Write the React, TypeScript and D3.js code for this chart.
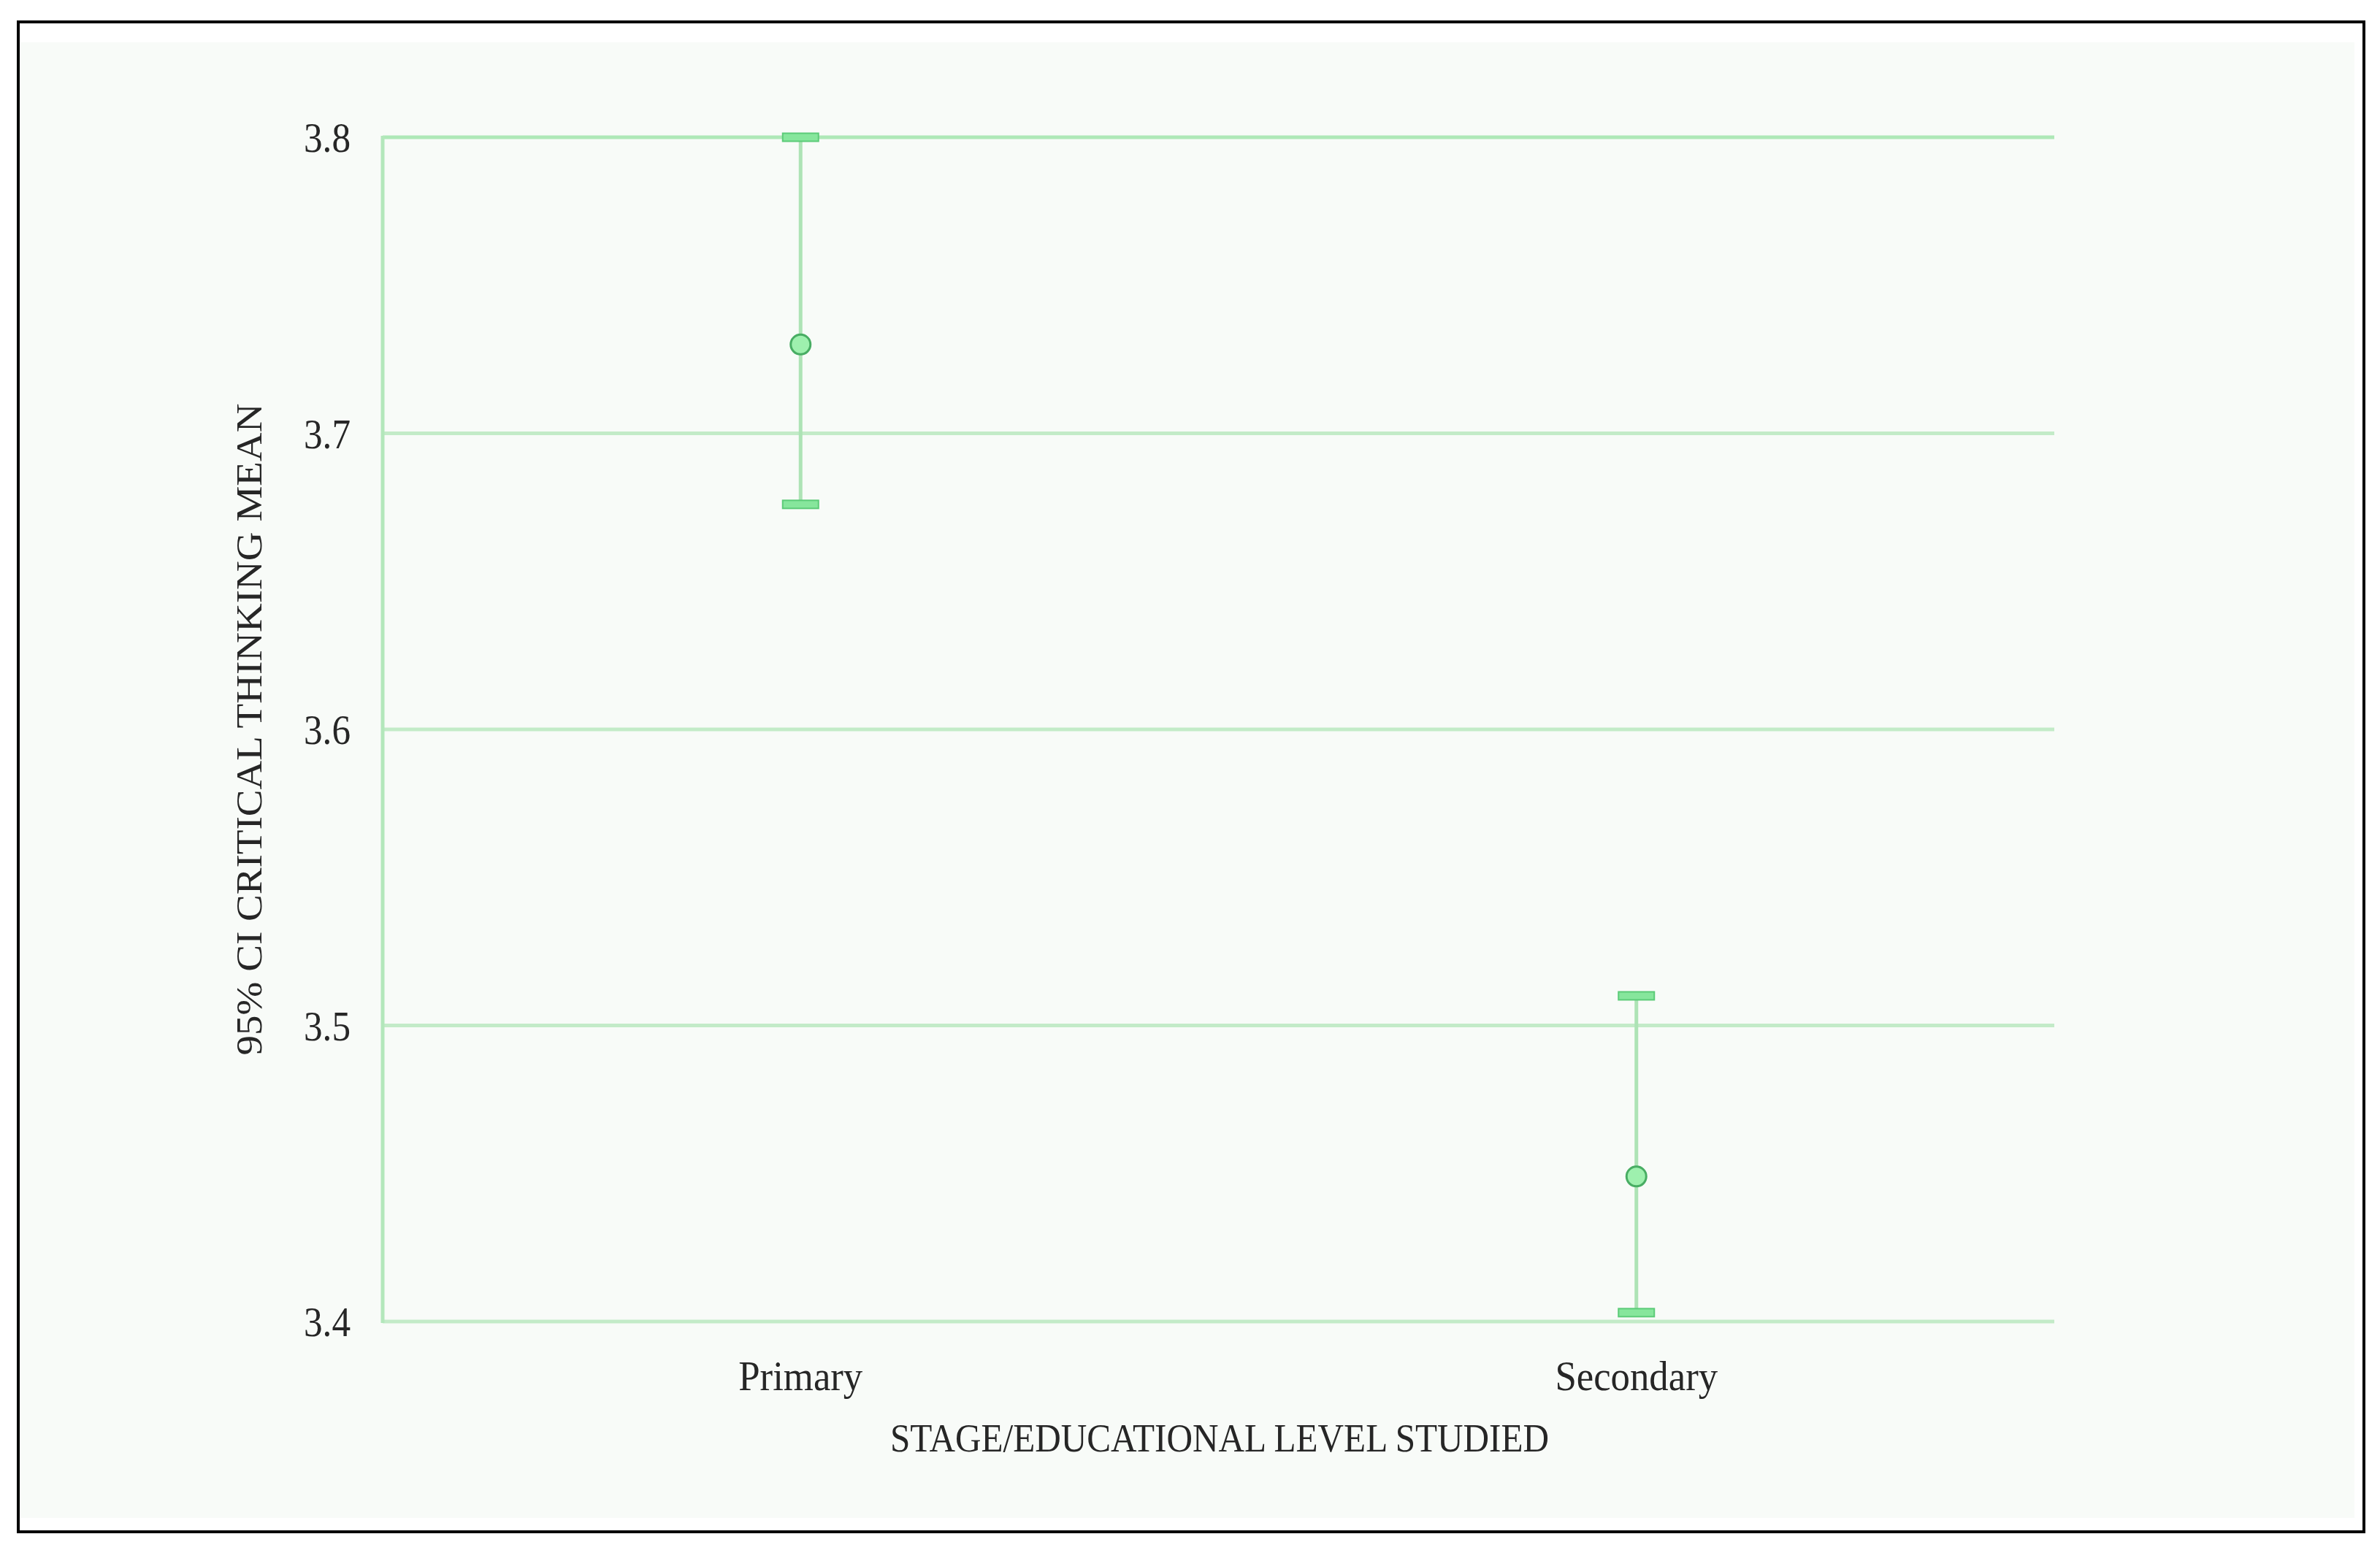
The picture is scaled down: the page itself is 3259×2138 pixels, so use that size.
import React from "react";
import * as d3 from "d3";

const categories = ["Primary", "Secondary"];
const means = [3.73, 3.449];
const lowers = [3.676, 3.403];
const uppers = [3.8, 3.51];
const yTicks = [3.4, 3.5, 3.6, 3.7, 3.8];
const yTitle = "95% CI CRITICAL THINKING MEAN";
const xTitle = "STAGE/EDUCATIONAL LEVEL STUDIED";

const W = 3259;
const H = 2138;
const plot = { left: 524, right: 2813, top: 188, bottom: 1810 };

export default function App() {
  const x = d3
    .scalePoint<string>()
    .domain(categories)
    .range([plot.left, plot.right])
    .padding(0.5);
  const y = d3.scaleLinear().domain([3.4, 3.8]).range([plot.bottom, plot.top]);
  const fmt = d3.format(".1f");
  const serif = "'Liberation Serif', 'DejaVu Serif', serif";
  const capW = 49;
  const capH = 11;

  return (
    <svg
      width={W}
      height={H}
      style={{ position: "absolute", left: 0, top: 0, background: "#ffffff" }}
    >
      <rect x={0} y={0} width={W} height={H} fill="#ffffff" />
      <rect x={27} y={58} width={3197} height={2021} fill="#f8fbf8" />
      <rect x={25} y={30} width={3212} height={2068} fill="none" stroke="#000" strokeWidth={4} />

      {/* gridlines */}
      {yTicks.map((t, i) => (
        <line
          key={"g" + i}
          x1={plot.left}
          x2={plot.right}
          y1={y(t)}
          y2={y(t)}
          stroke={t === 3.8 ? "#aee8b7" : "#c3ebc8"}
          strokeWidth={5}
        />
      ))}
      {/* left axis line */}
      <line x1={plot.left} x2={plot.left} y1={plot.top - 2} y2={plot.bottom + 2} stroke="#b3e7bb" strokeWidth={5} />

      {/* y tick labels */}
      {yTicks.map((t, i) => (
        <text
          key={"t" + i}
          x={480}
          y={y(t)}
          dy="0.35em"
          textAnchor="end"
          fontFamily={serif}
          fontSize={58}
          fill="#262626"
          textLength={64}
          lengthAdjust="spacingAndGlyphs"
        >
          {fmt(t)}
        </text>
      ))}

      {/* error bars */}
      {categories.map((c, i) => {
        const cx = x(c) as number;
        return (
          <g key={"e" + i}>
            <line x1={cx} x2={cx} y1={y(uppers[i])} y2={y(lowers[i])} stroke="#ade3b5" strokeWidth={5} />
            <rect
              x={cx - capW / 2}
              y={y(uppers[i]) - capH / 2}
              width={capW}
              height={capH}
              fill="#86e69c"
              stroke="#5ccb78"
              strokeWidth={2}
            />
            <rect
              x={cx - capW / 2}
              y={y(lowers[i]) - capH / 2}
              width={capW}
              height={capH}
              fill="#86e69c"
              stroke="#5ccb78"
              strokeWidth={2}
            />
            <circle cx={cx} cy={y(means[i])} r={13.5} fill="#9ef0ae" stroke="#48ad63" strokeWidth={3} />
          </g>
        );
      })}

      {/* category labels */}
      {categories.map((c, i) => (
        <text
          key={"c" + i}
          transform={`translate(${x(c)},1904) scale(0.91,1)`}
          textAnchor="middle"
          fontFamily={serif}
          fontSize={58}
          fill="#262626"
        >
          {c}
        </text>
      ))}

      {/* axis titles */}
      <text
        x={1670}
        y={1988}
        textAnchor="middle"
        fontFamily={serif}
        fontSize={55}
        fill="#262626"
        textLength={902}
        lengthAdjust="spacingAndGlyphs"
      >
        {xTitle}
      </text>
      <text
        transform="translate(358,999) rotate(-90)"
        textAnchor="middle"
        fontFamily={serif}
        fontSize={50}
        fill="#262626"
        textLength={893}
        lengthAdjust="spacingAndGlyphs"
      >
        {yTitle}
      </text>
    </svg>
  );
}
